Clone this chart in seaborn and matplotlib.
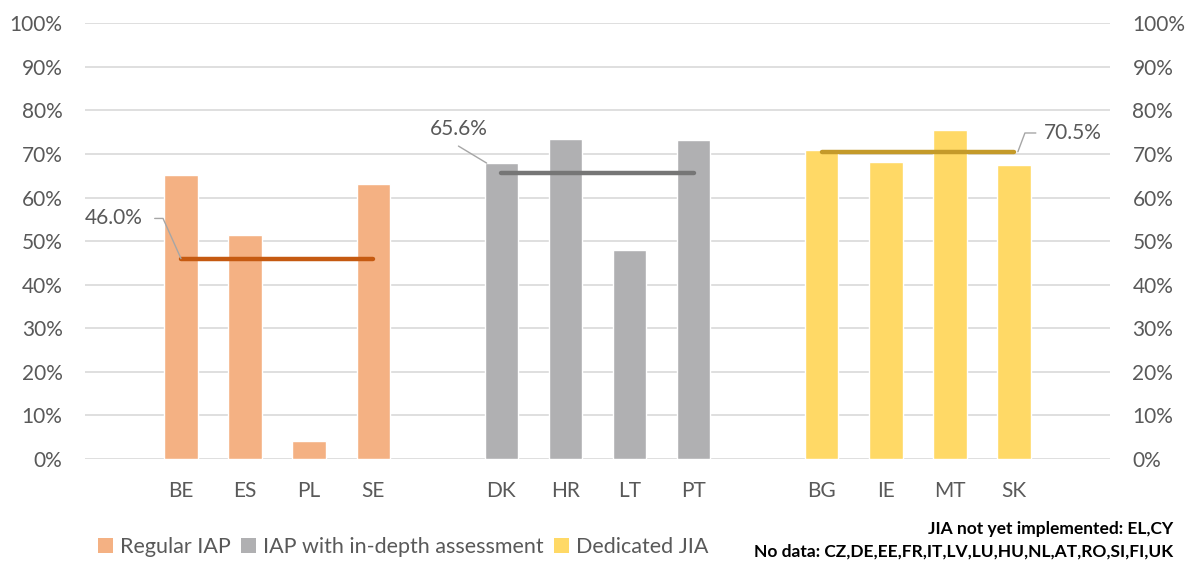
import matplotlib
matplotlib.use("Agg")
import numpy as np
import pandas as pd
import matplotlib.pyplot as plt
import seaborn as sns
from matplotlib.patches import Patch

# data
countries_regular = ["BE", "ES", "PL", "SE"]
values_regular = [65.2, 51.4, 4.2, 63.1]
countries_indepth = ["DK", "HR", "LT", "PT"]
values_indepth = [67.9, 73.5, 48.0, 73.1]
countries_jia = ["BG", "IE", "MT", "SK"]
values_jia = [70.9, 68.2, 75.4, 67.5]
group_names = ["Regular IAP", "IAP with in-depth assessment", "Dedicated JIA"]
group_means = [46.0, 65.6, 70.5]

bar_colors = ["#F4B183", "#B0B0B2", "#FFD966"]
line_colors = ["#C55A11", "#767676", "#C49A2A"]
text_grey = "#595959"

groups = [countries_regular, countries_indepth, countries_jia]
vals = [values_regular, values_indepth, values_jia]

rows = []
for name, cs, vs in zip(group_names, groups, vals):
    for c, v in zip(cs, vs):
        rows.append({"country": c, "value": v, "group": name})
df = pd.DataFrame(rows)

# empty slots between the groups
order = countries_regular + [" "] + countries_indepth + ["  "] + countries_jia

sns.set_style("white")
plt.rcParams["font.family"] = ["Lato", "DejaVu Sans"]
fs = 15

fig, ax = plt.subplots(figsize=(11.95, 5.64), dpi=100)
fig.subplots_adjust(left=0.071, right=0.929, bottom=0.186, top=0.959)

sns.barplot(data=df, x="country", y="value", hue="group", order=order,
            hue_order=group_names, palette=bar_colors, dodge=False,
            saturation=1, width=0.52, legend=False, ax=ax, zorder=2)

ax.set_xlim(-1.5, len(order) + 0.5)
ax.set_ylim(0, 100)
ticks = np.arange(0, 101, 10)
ax.set_yticks(ticks)
ax.set_yticklabels([f"{t}%" for t in ticks])
ax.yaxis.grid(True, color="#D9D9D9", linewidth=1.2, zorder=0)
ax.set_axisbelow(True)
for s in ax.spines.values():
    s.set_visible(False)
ax.set_xlabel("")
ax.set_ylabel("")
ax.tick_params(axis="y", length=0, labelsize=fs, labelcolor=text_grey,
               labelright=True, pad=16)
ax.tick_params(axis="x", length=0, labelsize=fs, labelcolor=text_grey, pad=16)

# group average lines
for i, (cs, m) in enumerate(zip(groups, group_means)):
    x0 = order.index(cs[0])
    x1 = order.index(cs[-1])
    ax.plot([x0, x1], [m, m], color=line_colors[i], linewidth=3.2,
            solid_capstyle="round", zorder=3)

leader = dict(color="#A6A6A6", linewidth=1, zorder=4)
# 46.0%
x0 = order.index(countries_regular[0])
m = group_means[0]
ax.plot([x0 - 0.41, x0 - 0.28, x0], [m + 9.2, m + 9.2, m], **leader)
ax.text(x0 - 0.6, m + 9.2, "46.0%", ha="right", va="center",
        fontsize=fs, color=text_grey)
# 65.6%
x0 = order.index(countries_indepth[0])
m = group_means[1]
ax.plot([x0 - 0.67, x0 - 0.23], [m + 6.2, m + 2.3], **leader)
ax.text(x0 - 0.66, m + 10.1, "65.6%", ha="center", va="center",
        fontsize=fs, color=text_grey)
# 70.5%
x1 = order.index(countries_jia[-1])
m = group_means[2]
ax.plot([x1 + 0.06, x1 + 0.17, x1 + 0.34], [m, m + 4.3, m + 4.3], **leader)
ax.text(x1 + 0.47, m + 4.3, "70.5%", ha="left", va="center",
        fontsize=fs, color=text_grey)

# legend
handles = [Patch(facecolor=c, edgecolor="none") for c in bar_colors]
leg = fig.legend(handles, group_names, loc="center left", bbox_to_anchor=(0.066, 0.03),
                 ncol=3, frameon=False, fontsize=15.5, handlelength=0.7,
                 handleheight=0.7, handletextpad=0.3, columnspacing=0.5)
for t in leg.get_texts():
    t.set_color(text_grey)

fig.text(0.982, 0.062, "JIA not yet implemented: EL,CY", ha="right", va="center",
         fontsize=12.5, fontweight="bold", color="black")
fig.text(0.982, 0.023, "No data: CZ,DE,EE,FR,IT,LV,LU,HU,NL,AT,RO,SI,FI,UK", ha="right",
         va="center", fontsize=12.5, fontweight="bold", color="black")

fig.savefig("out.png", dpi=100)
